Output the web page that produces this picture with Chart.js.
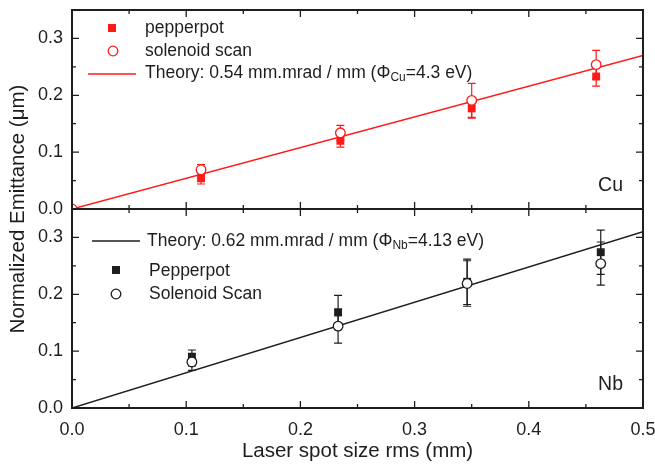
<!DOCTYPE html>
<html>
<head>
<meta charset="utf-8">
<script src="https://cdn.jsdelivr.net/npm/chart.js@4/dist/chart.umd.min.js"></script>
<style>
  body { margin: 0; background: #fff; }
  #wrap { width: 655px; height: 464px; }
</style>
</head>
<body>
<div id="wrap"><canvas id="myChart" width="655" height="464"></canvas></div>
<script>
// tick labels
var xTicks = [0, 0.1, 0.2, 0.3, 0.4, 0.5];
var yTicks = [0, 0.1, 0.2, 0.3];

// Cu panel
var cuX = [0.113, 0.235, 0.350, 0.459];
var cuPepper = [0.054, 0.120, 0.177, 0.233];
var cuPepperErr = [0.010, 0.011, 0.017, 0.017];
var cuSolX = [0, 0.113, 0.235, 0.350, 0.459];
var cuSol = [0, 0.069, 0.134, 0.191, 0.254];
var cuSolErr = [0, 0.009, 0.013, 0.030, 0.025];
var cuTheoryX = [0, 0.5];
var cuTheoryY = [0, 0.27];

// Nb panel
var nbX = [0.105, 0.233, 0.346, 0.463];
var nbPepper = [0.088, 0.168, 0.222, 0.274];
var nbPepperErr = [0.014, 0.030, 0.040, 0.039];
var nbSol = [0.081, 0.144, 0.219, 0.254];
var nbSolErr = [0.015, 0.030, 0.040, 0.038];
var nbTheoryX = [0, 0.5];
var nbTheoryY = [0, 0.31];

var RED = '#ff1a1a';
var INK = '#1e1e1e';
var FONT = '"Liberation Sans", Arial, Helvetica, sans-serif';

function pts(xs, ys) {
  return xs.map(function (x, i) { return { x: x, y: ys[i] }; });
}

// error bars drawn through the scales
var errorBars = {
  id: 'errorBars',
  beforeDatasetsDraw: function (chart) {
    var ctx = chart.ctx;
    chart.data.datasets.forEach(function (ds) {
      if (!ds.err) return;
      var xs = chart.scales.x, ys = chart.scales[ds.yAxisID];
      ctx.save();
      ctx.strokeStyle = ds.borderColor;
      ctx.lineWidth = 1.2;
      ds.data.forEach(function (p, i) {
        var e = ds.err[i];
        if (!e) return;
        var px = xs.getPixelForValue(p.x);
        var top = ys.getPixelForValue(p.y + e);
        var bot = ys.getPixelForValue(p.y - e);
        ctx.beginPath();
        ctx.moveTo(px, top); ctx.lineTo(px, bot);
        ctx.moveTo(px - 4, top); ctx.lineTo(px + 4, top);
        ctx.moveTo(px - 4, bot); ctx.lineTo(px + 4, bot);
        ctx.stroke();
      });
      ctx.restore();
    });
  }
};

// frame with inward ticks on every side of both panels
var frame = {
  id: 'frame',
  afterDatasetsDraw: function (chart) {
    var ctx = chart.ctx, xs = chart.scales.x;
    ['yCu', 'yNb'].forEach(function (id) {
      var ys = chart.scales[id];
      var l = xs.left, r = xs.right, t = ys.top, b = ys.bottom;
      ctx.save();
      ctx.strokeStyle = INK;
      ctx.lineWidth = 2;
      ctx.strokeRect(l, t, r - l, b - t);
      ctx.lineWidth = 1.3;
      ctx.beginPath();
      for (var i = 0; i <= 10; i++) {
        var len = i % 2 === 0 ? 7 : 4;
        var px = xs.getPixelForValue(i * 0.05);
        ctx.moveTo(px, b); ctx.lineTo(px, b - len);
        ctx.moveTo(px, t); ctx.lineTo(px, t + len);
      }
      for (var j = 0; j <= 7; j++) {
        var len2 = j % 2 === 0 ? 7 : 4;
        var py = ys.getPixelForValue(j * 0.05);
        ctx.moveTo(l, py); ctx.lineTo(l + len2, py);
        ctx.moveTo(r, py); ctx.lineTo(r - len2, py);
      }
      ctx.stroke();
      ctx.restore();
    });
  },
  afterDraw: function (chart) {
    var ctx = chart.ctx;
    var yCu = chart.scales.yCu, yNb = chart.scales.yNb;
    ctx.save();
    ctx.textBaseline = 'middle';
    ctx.textAlign = 'left';

    function theoryText(x, y, a, sub, b, color) {
      ctx.fillStyle = color;
      ctx.font = '17.5px ' + FONT;
      ctx.fillText(a, x, y);
      var w = ctx.measureText(a).width;
      ctx.font = '12px ' + FONT;
      ctx.fillText(sub, x + w, y + 5);
      var w2 = ctx.measureText(sub).width;
      ctx.font = '17.5px ' + FONT;
      ctx.fillText(b, x + w + w2, y);
    }

    // Cu legend
    ctx.fillStyle = RED;
    ctx.fillRect(108, 24, 8, 8);
    ctx.strokeStyle = RED; ctx.lineWidth = 1.3;
    ctx.beginPath(); ctx.arc(113, 51, 4.8, 0, Math.PI * 2); ctx.stroke();
    ctx.lineWidth = 1.5;
    ctx.beginPath(); ctx.moveTo(88, 74); ctx.lineTo(136, 74); ctx.stroke();
    ctx.font = '17.5px ' + FONT;
    ctx.fillStyle = INK;
    ctx.fillText('pepperpot', 145, 28);
    ctx.fillText('solenoid scan', 145, 51);
    theoryText(145, 73, 'Theory: 0.54 mm.mrad / mm (\u03A6', 'Cu', '=4.3 eV)', INK);

    // Nb legend
    ctx.strokeStyle = INK; ctx.lineWidth = 1.5;
    ctx.beginPath(); ctx.moveTo(92, 241); ctx.lineTo(140, 241); ctx.stroke();
    theoryText(147, 241, 'Theory: 0.62 mm.mrad / mm (\u03A6', 'Nb', '=4.13 eV)', INK);
    ctx.fillStyle = INK;
    ctx.fillRect(112, 266, 8, 8);
    ctx.lineWidth = 1.3;
    ctx.beginPath(); ctx.arc(116, 294, 4.8, 0, Math.PI * 2); ctx.stroke();
    ctx.font = '17.5px ' + FONT;
    ctx.fillText('Pepperpot', 149, 271);
    ctx.fillText('Solenoid Scan', 149, 294);

    // panel labels
    ctx.font = '19.5px ' + FONT;
    ctx.textAlign = 'right';
    ctx.fillText('Cu', 623, yCu.bottom - 23);
    ctx.fillText('Nb', 623, yNb.bottom - 23);

    // shared y title
    ctx.translate(18, (yCu.top + yNb.bottom) / 2);
    ctx.rotate(-Math.PI / 2);
    ctx.textAlign = 'center';
    ctx.font = '20.5px ' + FONT;
    ctx.fillText('Normalized Emittance (\u03BCm)', 0, 0);
    ctx.restore();
  }
};

function yAxis() {
  return {
    type: 'linear', position: 'left', stack: 'panels', stackWeight: 1,
    min: 0, max: 0.35, offset: false,
    afterBuildTicks: function (s) { s.ticks = yTicks.map(function (v) { return { value: v }; }); },
    afterFit: function (s) { s.width = 72; s.paddingTop = 0; s.paddingBottom = 0; },
    grid: { display: false }, border: { display: false },
    ticks: { color: INK, font: { size: 18, family: FONT }, padding: 1,
      callback: function (v) { return Number(v).toFixed(1); } }
  };
}

const config = {
  type: 'scatter',
  data: {
    datasets: [
      { label: 'solenoid scan', data: pts(cuSolX, cuSol), err: cuSolErr, yAxisID: 'yCu',
        pointStyle: 'circle', pointRadius: 4.8, borderColor: RED, backgroundColor: '#fff', borderWidth: 1.3 },
      { label: 'pepperpot', data: pts(cuX, cuPepper), err: cuPepperErr, yAxisID: 'yCu',
        pointStyle: 'rect', pointRadius: 5.6, borderColor: RED, backgroundColor: RED, borderWidth: 0 },
      { label: 'Solenoid Scan', data: pts(nbX, nbSol), err: nbSolErr, yAxisID: 'yNb',
        pointStyle: 'circle', pointRadius: 4.8, borderColor: INK, backgroundColor: '#fff', borderWidth: 1.3 },
      { label: 'Pepperpot', data: pts(nbX, nbPepper), err: nbPepperErr, yAxisID: 'yNb',
        pointStyle: 'rect', pointRadius: 5.6, borderColor: INK, backgroundColor: INK, borderWidth: 0 },
      { label: 'Theory Cu', data: pts(cuTheoryX, cuTheoryY), yAxisID: 'yCu', showLine: true,
        pointRadius: 0, borderColor: RED, borderWidth: 1.5 },
      { label: 'Theory Nb', data: pts(nbTheoryX, nbTheoryY), yAxisID: 'yNb', showLine: true,
        pointRadius: 0, borderColor: INK, borderWidth: 1.5 }
    ]
  },
  options: {
    responsive: false,
    animation: false,
    layout: { padding: { top: 10, right: 12, left: 0, bottom: 0 } },
    plugins: { legend: { display: false }, tooltip: { enabled: false } },
    scales: {
      x: {
        type: 'linear', position: 'bottom', min: 0, max: 0.5,
        afterBuildTicks: function (s) { s.ticks = xTicks.map(function (v) { return { value: v }; }); },
        afterFit: function (s) { s.height = 56; s.paddingLeft = 0; s.paddingRight = 0; },
        grid: { display: false }, border: { display: false },
        ticks: { color: INK, font: { size: 18, family: FONT }, padding: 3,
          callback: function (v) { return Number(v).toFixed(1); } },
        title: { display: true, text: 'Laser spot size rms (mm)', color: INK,
          font: { size: 20.5, family: FONT }, padding: { top: 0, bottom: 0 } }
      },
      yNb: yAxis(),
      yCu: yAxis()
    }
  },
  plugins: [errorBars, frame]
};

const myChart = new Chart(document.getElementById('myChart'), config);
</script>
</body>
</html>
